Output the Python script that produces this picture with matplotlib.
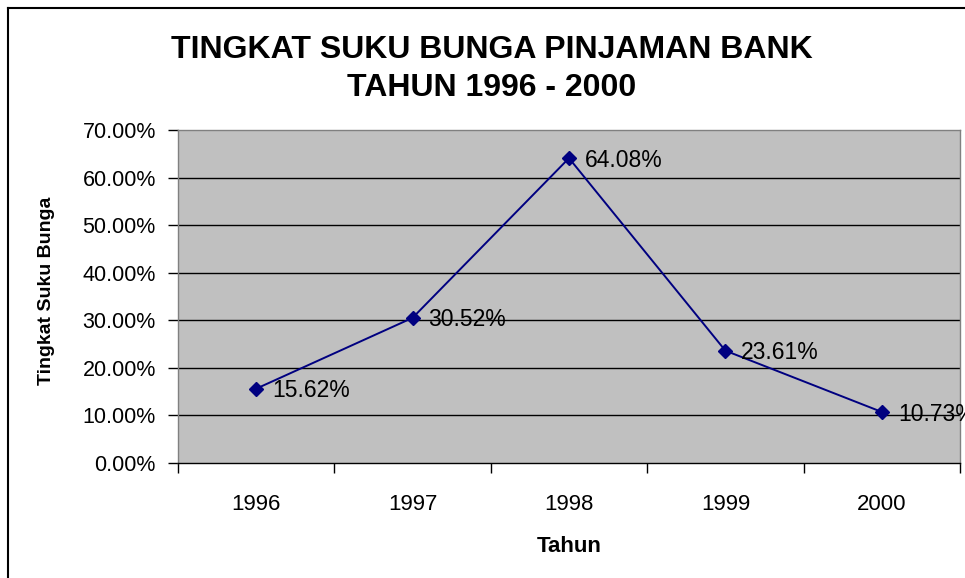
import matplotlib
matplotlib.use("Agg")
import matplotlib.pyplot as plt
from matplotlib.lines import Line2D
from matplotlib.ticker import FuncFormatter, FixedLocator, NullFormatter

years = ["1996", "1997", "1998", "1999", "2000"]
rates = [0.1562, 0.3052, 0.6408, 0.2361, 0.1073]
y_ticks = [0.0, 0.1, 0.2, 0.3, 0.4, 0.5, 0.6, 0.7]

plt.rcParams["font.family"] = ["Liberation Sans", "DejaVu Sans"]

fig = plt.figure(figsize=(9.65, 5.78), dpi=100)
ax = fig.add_axes([178 / 965, 1 - 463 / 578, 782 / 965, 333 / 578])
ax.set_facecolor("#C0C0C0")

x = list(range(len(years)))
ax.plot(x, rates, color="#000080", linewidth=1.4, marker="D", markersize=7.5,
        markerfacecolor="#000080", markeredgecolor="#000080", zorder=3, clip_on=False)
for xi, v in zip(x, rates):
    ax.annotate(f"{v * 100:.2f}%", (xi, v), xytext=(11.5, -1.5), textcoords="offset points",
                ha="left", va="center", fontsize=16.5, color="black",
                annotation_clip=False, zorder=4)

ax.set_xlim(-0.5, len(years) - 0.5)
ax.set_ylim(0, 0.7)
ax.set_yticks(y_ticks)
ax.yaxis.set_major_formatter(FuncFormatter(lambda v, p: f"{v * 100:.2f}%"))
ax.tick_params(axis="y", direction="out", length=7, width=1, labelsize=15.5, pad=9)
for yv in y_ticks[1:-1]:
    ax.axhline(yv, color="black", linewidth=1, zorder=1)

# category labels at centres, ticks at boundaries
ax.set_xticks(x)
ax.set_xticklabels(years, fontsize=16)
ax.tick_params(axis="x", which="major", length=0, pad=22)
ax.xaxis.set_minor_locator(FixedLocator([i - 0.5 for i in range(len(years) + 1)]))
ax.xaxis.set_minor_formatter(NullFormatter())
ax.tick_params(axis="x", which="minor", direction="out", length=7, width=1)

for side in ["top", "right", "left"]:
    ax.spines[side].set_color("#808080")
    ax.spines[side].set_linewidth(1)
ax.spines["bottom"].set_color("black")
ax.spines["bottom"].set_linewidth(1)

fig.text(47 / 965, 1 - 291 / 578, "Tingkat Suku Bunga", rotation=90, ha="center", va="center",
         fontsize=14, fontweight="bold")
fig.text(569 / 965, 1 - 547 / 578, "Tahun", ha="center", va="center",
         fontsize=16, fontweight="bold")

fig.text(492 / 965, 1 - 50 / 578, "TINGKAT SUKU BUNGA PINJAMAN BANK", ha="center", va="center",
         fontsize=23, fontweight="bold")
fig.text(492 / 965, 1 - 88 / 578, "TAHUN 1996 - 2000", ha="center", va="center",
         fontsize=23, fontweight="bold")

# chart frame (left and top edges visible)
fig.add_artist(Line2D([8 / 965, 8 / 965], [0, 1 - 8 / 578], transform=fig.transFigure,
                      color="black", linewidth=1.5))
fig.add_artist(Line2D([8 / 965, 1], [1 - 8 / 578, 1 - 8 / 578], transform=fig.transFigure,
                      color="black", linewidth=1.5))

fig.savefig("out.png", dpi=100)
